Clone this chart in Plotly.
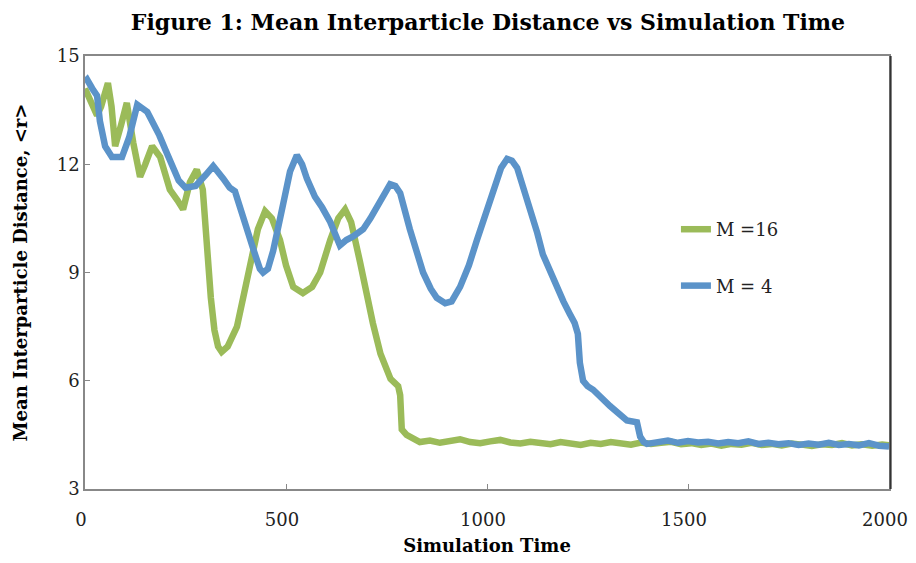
import plotly.graph_objects as go

# ---- data ----
t_m16 = [0, 15, 30, 40, 57, 66, 75, 90, 104, 120, 137, 150, 167, 187, 211, 230, 244, 261, 278, 293,
         303, 313, 322, 331, 340, 355, 378, 395, 410, 430, 448, 465, 485, 500, 518, 542, 565, 585,
         610, 630, 647, 662, 684, 700, 716, 735, 750, 760, 779, 784, 788, 800,
         833, 858, 883, 908, 933, 958, 983, 1008, 1033, 1058, 1083, 1108, 1133, 1158, 1183, 1208,
         1233, 1258, 1283, 1308, 1333, 1358, 1383, 1408, 1433, 1458, 1483, 1508, 1533, 1558, 1583,
         1608, 1633, 1658, 1683, 1708, 1733, 1758, 1783, 1808, 1833, 1858, 1883, 1908, 1933, 1958,
         1983, 2000]
r_m16 = [14.1, 13.7, 13.35, 13.6, 14.25, 13.6, 12.5, 13.1, 13.7, 12.6, 11.65, 12.0, 12.5, 12.2, 11.3, 11.0, 10.75, 11.5, 11.85, 11.3,
         9.6, 8.3, 7.4, 6.95, 6.8, 6.95, 7.5, 8.4, 9.25, 10.2, 10.7, 10.5, 9.9, 9.2, 8.6, 8.43, 8.6, 9.0,
         9.9, 10.5, 10.75, 10.4, 9.3, 8.4, 7.6, 6.75, 6.35, 6.05, 5.85, 5.6, 4.65, 4.5,
         4.30, 4.34, 4.28, 4.33, 4.38, 4.30, 4.27, 4.32, 4.36, 4.29, 4.26, 4.31, 4.28, 4.24, 4.30, 4.27,
         4.22, 4.28, 4.25, 4.30, 4.26, 4.23, 4.29, 4.25, 4.28, 4.31, 4.24, 4.27, 4.22, 4.26, 4.20,
         4.25, 4.23, 4.28, 4.22, 4.25, 4.21, 4.26, 4.23, 4.19, 4.24, 4.22, 4.27, 4.21, 4.24, 4.20,
         4.23, 4.21]

t_m4 = [0, 5, 18, 30, 37, 50, 67, 92, 110, 130, 155, 167, 185, 200, 233, 250, 275, 300, 319, 344,
        360, 373, 390, 403, 420, 435, 443, 455, 468, 493, 510, 527, 540, 552, 572, 590, 610, 634,
        650, 667, 692, 710, 726, 745, 759, 772, 784, 808, 825, 841, 860, 875, 896, 912, 933, 955,
        975, 995, 1015, 1035, 1050, 1062, 1075, 1090, 1107, 1125, 1139, 1157, 1174, 1190, 1206,
        1218, 1226, 1231, 1239, 1250, 1264, 1285, 1306, 1327, 1348, 1373, 1381, 1390, 1398,
        1425, 1450, 1475, 1500, 1525, 1550, 1575, 1600, 1625, 1650, 1675, 1700, 1725, 1750, 1775,
        1800, 1825, 1850, 1875, 1900, 1925, 1950, 1975, 2000]
r_m4 = [14.3, 14.35, 14.1, 13.9, 13.2, 12.5, 12.2, 12.2, 12.75, 13.65, 13.45, 13.2, 12.8, 12.4, 11.55, 11.35, 11.4, 11.7, 11.95, 11.6,
        11.35, 11.25, 10.7, 10.2, 9.6, 9.1, 9.0, 9.1, 9.6, 10.9, 11.8, 12.25, 12.0, 11.6, 11.1, 10.8, 10.4, 9.75,
        9.9, 10.0, 10.2, 10.5, 10.8, 11.2, 11.45, 11.4, 11.2, 10.2, 9.6, 9.0, 8.55, 8.3, 8.15, 8.2, 8.6, 9.2,
        9.9, 10.6, 11.3, 11.9, 12.15, 12.1, 11.9, 11.4, 10.8, 10.1, 9.5, 9.0, 8.55, 8.2, 7.85,
        7.6, 7.3, 6.5, 6.0, 5.85, 5.75, 5.5, 5.3, 5.1, 4.9, 4.85, 4.45, 4.3, 4.25,
        4.30, 4.34, 4.28, 4.33, 4.29, 4.31, 4.26, 4.30, 4.27, 4.32, 4.25, 4.28, 4.24, 4.27, 4.22,
        4.26, 4.23, 4.28, 4.22, 4.25, 4.21, 4.27, 4.20, 4.18]

x_ticks = [0, 500, 1000, 1500, 2000]
y_ticks = [3, 6, 9, 12, 15]

GREEN = "#9bbb59"
BLUE = "#5b93c9"
SERIF = "DejaVu Serif"

fig = go.Figure()
fig.add_trace(go.Scatter(x=t_m16, y=r_m16, mode="lines", name="M =16", legendgroup="a",
                         line=dict(color=GREEN, width=6.5)))
fig.add_trace(go.Scatter(x=t_m4, y=r_m4, mode="lines", name="M = 4", legendgroup="b",
                         line=dict(color=BLUE, width=6.5)))

fig.update_layout(
    width=916, height=563,
    margin=dict(l=77, r=35, t=48, b=82),
    paper_bgcolor="white", plot_bgcolor="white",
    title=dict(text="<b>Figure 1: Mean Interparticle Distance vs Simulation Time</b>",
               x=0.524, xanchor="center", y=0.975, yanchor="middle",
               font=dict(family=SERIF, size=22, color="black")),
    font=dict(family=SERIF, size=18, color="#222222"),
    legend=dict(x=0.735, y=0.642, xanchor="left", yanchor="top",
                traceorder="grouped", tracegroupgap=30,
                bgcolor="rgba(0,0,0,0)", font=dict(family=SERIF, size=18, color="#222222")),
    showlegend=True,
)
fig.update_xaxes(range=[0, 2000], tickvals=x_ticks, ticks="inside", ticklen=5, tickcolor="#888888",
                 showline=True, linecolor="#888888", linewidth=1.5, mirror=True, showgrid=False,
                 zeroline=False, ticklabelstandoff=14, ticklabelshift=-4, automargin=False,
                 title=dict(text="<b>Simulation Time</b>", font=dict(family=SERIF, size=18, color="black"),
                            standoff=10))
fig.update_yaxes(range=[3, 15], tickvals=y_ticks, ticks="inside", ticklen=5, tickcolor="#888888",
                 showline=True, linecolor="#888888", linewidth=1.5, mirror=True, showgrid=False,
                 zeroline=False, ticklabelstandoff=0, automargin=False,
                 title=dict(text="<b>Mean Interparticle Distance, &lt;r&gt;</b>",
                            font=dict(family=SERIF, size=18, color="black"), standoff=24))
fig.add_shape(type="line", xref="paper", yref="paper", x0=1.002, x1=1.002, y0=0, y1=1,
              line=dict(color="#333333", width=2))

fig.write_html("out.html")
